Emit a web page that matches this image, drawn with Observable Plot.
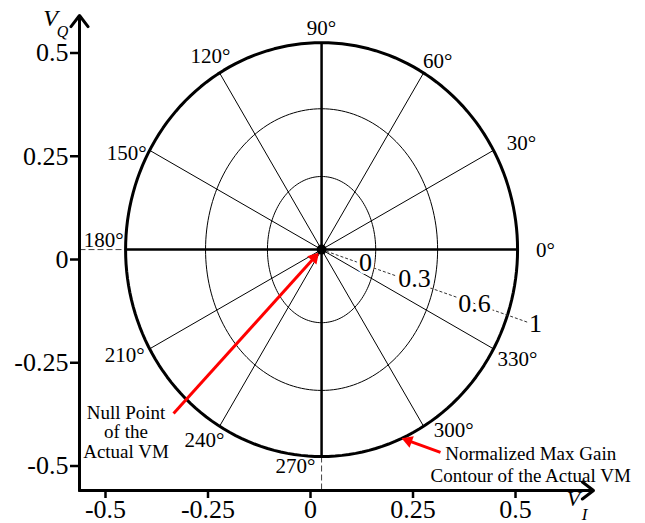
<!DOCTYPE html>
<html><head><meta charset="utf-8">
<script src="https://cdn.jsdelivr.net/npm/d3@7"></script>
<script src="https://cdn.jsdelivr.net/npm/@observablehq/plot@0.6"></script>
<style>body{margin:0;background:#fff}#chart svg{display:block}</style>
</head><body><div id="chart"></div>
<script>
// ---- data ----
const xTicks = [-0.5, -0.25, 0, 0.25, 0.5];
const yTicks = [-0.5, -0.25, 0, 0.25, 0.5];
const nullPoint = {x: 0.027, y: 0.024};
const ringLevels = [0.3, 0.6, 1];
const ringRx = [0.132, 0.283, 0.478];
const ringRy = [0.177, 0.341, 0.501];
const spokeAngles = [0, 30, 60, 90, 120, 150, 180, 210, 240, 270, 300, 330];
const spokeLabels = spokeAngles.map(a => a + "\u00b0");
const gainLabels = ["0", "0.3", "0.6", "1"];
const noteNull = "Null Point\nof the\nActual VM";
const noteContour = "Normalized Max Gain\nContour of the Actual VM";

// ---- layout ----
const W = 645, H = 523, mL = 79, mR = 52, mT = 15, mB = 33;
const xLo = -0.5634, xHi = 0.6902, yLo = -0.5593, yHi = 0.5908;
const kx = (W - mL - mR) / (xHi - xLo), ky = (H - mT - mB) / (yHi - yLo);
const cx = nullPoint.x, cy = nullPoint.y;
const FONT = "'Liberation Serif', 'Times New Roman', serif";
// pixel offset (screen, y down) from null point -> data coords
const P = (dx, dy) => ({x: cx + dx / kx, y: cy - dy / ky});
// point on ring i at screen angle a (deg, ccw), as pixel offset
function edge(a, i = 2) {
  const A = ringRx[i] * kx, B = ringRy[i] * ky;
  const c = Math.cos(a * Math.PI / 180), s = Math.sin(a * Math.PI / 180);
  const r = 1 / Math.sqrt(c * c / (A * A) + s * s / (B * B));
  return [r * c, -r * s];
}
const labelOffsets = {0:[28,1],30:[28,-7],60:[14,-12],90:[0,-14],120:[-9,-17],150:[-23,3],
  180:[-22,-9],210:[-25,6],240:[-15,14],270:[-26,10],300:[30,4],330:[24,10]};
const gainOffsets = [[44,13],[93,29],[153,54],[214,74]];

// rings
const ringPts = [];
ringLevels.forEach((lv, i) => {
  for (let t = 0; t < 360; t += 2) {
    const r = t * Math.PI / 180;
    ringPts.push({ring: lv, x: cx + ringRx[i] * Math.cos(r), y: cy + ringRy[i] * Math.sin(r)});
  }
});
const spokes = spokeAngles.map((a, k) => {
  const e = edge(a); const p = P(e[0], e[1]);
  const o = labelOffsets[a]; const l = P(e[0] + o[0], e[1] + o[1]);
  return {a, label: spokeLabels[k], x1: cx, y1: cy, x2: p.x, y2: p.y, lx: l.x, ly: l.y,
    main: a % 90 === 0};
});
const gains = gainLabels.map((g, i) => ({g, ...P(gainOffsets[i][0], gainOffsets[i][1])}));
const leaderEnd = P(207, 73);
const e180 = P(...edge(180)), e270 = P(...edge(270));

// red arrows
function arrow(tail, tipPx) {
  const tx = (tail.x - cx) * kx, ty = -(tail.y - cy) * ky; // px offset of tail
  let ux = tipPx[0] - tx, uy = tipPx[1] - ty; const L = Math.hypot(ux, uy); ux /= L; uy /= L;
  const cen = P(tipPx[0] - ux * 7, tipPx[1] - uy * 7);
  const end = P(tipPx[0] - ux * 6, tipPx[1] - uy * 6);
  return {x1: tail.x, y1: tail.y, x2: end.x, y2: end.y, hx: cen.x, hy: cen.y,
    rot: Math.atan2(ux, -uy) * 180 / Math.PI};
}
const arrows = [
  arrow({x: -0.334, y: -0.373}, (() => { const ux = 148, uy = -164, L = Math.hypot(ux, uy); return [-ux / L * 4, -uy / L * 4]; })()),
  arrow({x: 0.317, y: -0.467}, edge(293))
];

const plot = Plot.plot({
  width: W, height: H, marginLeft: mL, marginRight: mR, marginTop: mT, marginBottom: mB,
  x: {domain: [xLo, xHi]}, y: {domain: [yLo, yHi]},
  style: {fontFamily: FONT, background: "#fff", color: "#000"},
  marks: [
    // dashed projections
    Plot.link([0], {x1: xLo, y1: cy, x2: e180.x, y2: cy, stroke: "#444", strokeWidth: 1, strokeDasharray: "6,3"}),
    Plot.link([0], {x1: cx, y1: e270.y, x2: cx, y2: yLo, stroke: "#444", strokeWidth: 1, strokeDasharray: "6,3"}),
    // rings
    Plot.line(ringPts.filter(d => d.ring < 1), {x: "x", y: "y", z: "ring", curve: "linear-closed", stroke: "#000", strokeWidth: 1}),
    Plot.line(ringPts.filter(d => d.ring === 1), {x: "x", y: "y", curve: "linear-closed", stroke: "#000", strokeWidth: 3}),
    // spokes
    Plot.link(spokes.filter(d => !d.main), {x1: "x1", y1: "y1", x2: "x2", y2: "y2", stroke: "#000", strokeWidth: 1}),
    Plot.link(spokes.filter(d => d.main), {x1: "x1", y1: "y1", x2: "x2", y2: "y2", stroke: "#000", strokeWidth: 2.5}),
    // gain leader
    Plot.link([0], {x1: cx, y1: cy, x2: leaderEnd.x, y2: leaderEnd.y, stroke: "#333", strokeWidth: 1, strokeDasharray: "3,2"}),
    Plot.text(gains, {x: "x", y: "y", text: "g", fontSize: 26, fill: "#000", stroke: "#fff", strokeWidth: 6, paintOrder: "stroke"}),
    // angle labels
    Plot.text(spokes, {x: "lx", y: "ly", text: "label", fontSize: 21, fill: "#000"}),
    // red arrows
    Plot.link(arrows, {x1: "x1", y1: "y1", x2: "x2", y2: "y2", stroke: "#ff0000", strokeWidth: 3}),
    Plot.dot(arrows, {x: "hx", y: "hy", rotate: "rot", symbol: "triangle", r: 4.6, fill: "#ff0000", stroke: "none"}),
    // null point
    Plot.dot([nullPoint], {x: "x", y: "y", r: 5, fill: "#000"}),
    // notes
    Plot.text([noteNull], {x: -0.450, y: -0.418, text: d => d, fontSize: 19, lineHeight: 1.03, fill: "#000"}),
    Plot.text([noteContour], {x: 0.537, y: -0.494, text: d => d, fontSize: 19, lineHeight: 1.16, fill: "#000"}),
    // axes
    Plot.axisX({ticks: xTicks, tickFormat: d => String(d), tickSize: 8, tickPadding: 1, fontSize: 26, strokeWidth: 2.5, label: null}),
    Plot.axisY({ticks: yTicks, tickFormat: d => String(d), tickSize: 9, tickPadding: 2, fontSize: 26, strokeWidth: 2.5, label: null}),
    Plot.arrow([0], {x1: xLo, y1: yLo, x2: xHi, y2: yLo, stroke: "#000", strokeWidth: 3, headLength: 7, headAngle: 75}),
    Plot.arrow([0], {x1: xLo, y1: yLo, x2: xLo, y2: yHi, stroke: "#000", strokeWidth: 3, headLength: 7, headAngle: 75}),
    // axis titles
    Plot.text(["V"], {x: xLo - 29 / kx, y: yHi - 3 / ky, text: d => d, fontSize: 24, fontStyle: "italic", fill: "#000"}),
    Plot.text(["Q"], {x: xLo - 17 / kx, y: yHi - 16 / ky, text: d => d, fontSize: 16, fontStyle: "italic", fill: "#000"}),
    Plot.text(["V"], {x: xHi - 20 / kx, y: yLo - 8 / ky, text: d => d, fontSize: 22, fontStyle: "italic", fill: "#000"}),
    Plot.text(["I"], {x: xHi - 9 / kx, y: yLo - 24 / ky, text: d => d, fontSize: 17, fontStyle: "italic", fill: "#000"})
  ]
});
document.getElementById("chart").appendChild(plot);
</script>
</body></html>
